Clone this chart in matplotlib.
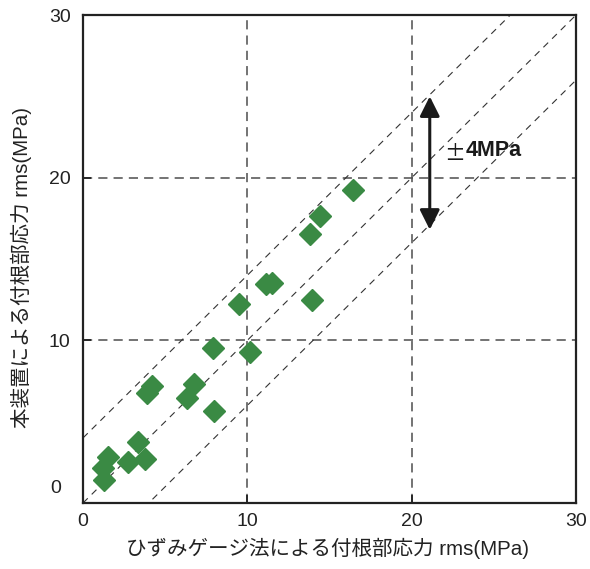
import matplotlib
matplotlib.use("Agg")
import matplotlib.pyplot as plt

plt.rcParams['font.family'] = ['Liberation Sans', 'Noto Sans CJK JP', 'DejaVu Sans']

# --- データ ---
gauge_x = [1.30, 1.24, 1.54, 2.76, 3.33, 3.79, 3.87, 4.18, 6.33, 6.78,
           7.99, 7.91, 10.14, 9.47, 11.12, 11.48, 13.91, 13.82, 14.43, 16.41]
device_y = [1.41, 2.17, 2.81, 2.50, 3.77, 2.69, 6.78, 7.19, 6.47, 7.33,
            5.65, 9.55, 9.30, 12.21, 13.46, 13.54, 12.46, 16.51, 17.66, 19.24]
band_offsets = [-4, 0, 4]
ticks = [0, 10, 20, 30]
arrow_x = 21.1
arrow_range = [16.8, 25.0]

xlabel = "ひずみゲージ法による付根部応力 rms(MPa)"
ylabel = "本装置による付根部応力 rms(MPa)"

fig = plt.figure(figsize=(5.9, 5.69), dpi=100)
ax = fig.add_axes([0.1407, 0.1160, 0.8356, 0.8576])
ax.set_xlim(0, 30)
ax.set_ylim(0, 30)

# 補助線 (グリッド)
for v in ticks[1:-1]:
    ax.axvline(v, color='#4d4d4d', lw=1.1, ls=(0, (6, 4)), zorder=1)
    ax.axhline(v, color='#4d4d4d', lw=1.1, ls=(0, (6, 4)), zorder=1)

# y = x, y = x ± 4
for off in band_offsets:
    ax.plot([0, 30], [0 + off, 30 + off], color='#333333', lw=0.8,
            ls=(0, (6, 5)), zorder=2)

ax.plot(gauge_x, device_y, ls='none', marker='D', ms=11,
        color='#3a8a44', mec='#3a8a44', zorder=3, clip_on=False)

# ±4MPa の矢印
ax.annotate('', xy=(arrow_x, arrow_range[0]), xytext=(arrow_x, arrow_range[1]),
            arrowprops=dict(arrowstyle='<|-|>,head_length=0.6,head_width=0.3',
                            color='#1a1a1a', lw=2.2,
                            mutation_scale=20, shrinkA=0, shrinkB=0), zorder=4)
ax.text(22.0, 21.45, '±', fontsize=15, ha='left', va='center',
        family=['Noto Sans CJK JP', 'DejaVu Sans'], color='#1a1a1a')
ax.text(23.3, 21.7, '4MPa', fontsize=15.5, fontweight='bold', ha='left',
        va='center', color='#1a1a1a')

ax.set_xticks(ticks)
ax.set_yticks(ticks)
ax.set_xticklabels([str(t) for t in ticks])
ax.set_yticklabels([''] + [str(t) for t in ticks[1:]])
ax.text(-0.045, 0.03, '0', transform=ax.transAxes, fontsize=14,
        ha='right', va='center', color='#222222')
ax.tick_params(direction='in', length=6, width=1.3, labelsize=14,
               colors='#222222')
ax.tick_params(axis='y', pad=9)
ax.tick_params(axis='x', pad=7)
for s in ax.spines.values():
    s.set_linewidth(1.6)
    s.set_color('#222222')

fig.text(0.555, 0.037, xlabel, fontsize=14.8, ha='center', va='center',
         color='#222222')
fig.text(0.037, 0.53, ylabel, fontsize=14.8, ha='center', va='center',
         rotation=90, color='#222222')

fig.savefig('out.png', dpi=100)
